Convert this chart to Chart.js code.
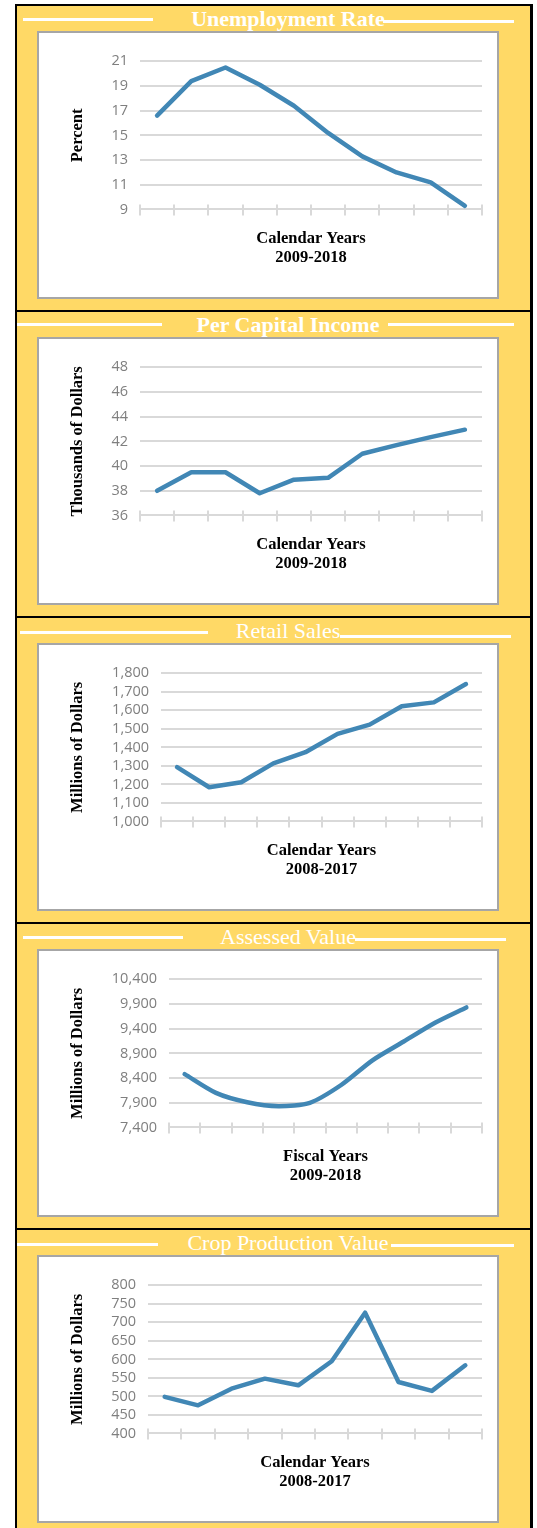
<!DOCTYPE html>
<html>
<head>
<meta charset="utf-8">
<script src="https://cdn.jsdelivr.net/npm/chart.js@4.4.1/dist/chart.umd.min.js"></script>
<style>
  body { margin: 0; background: #fff; width: 537px; height: 1528px; overflow: hidden; position: relative; }
  .panel {
    position: absolute; left: 15px; width: 518px; height: 306px; box-sizing: border-box;
    background: #FFD966; border-top: 2px solid #000; border-left: 2px solid #000; border-right: 3px solid #000;
  }
  .title {
    position: absolute; left: 271px; top: 2px; transform: translateX(-50%); white-space: nowrap;
    font-family: "Liberation Serif", serif; font-size: 22px; line-height: 22px; color: #fff;
  }
  .rule { position: absolute; height: 3px; background: #fff; }
  .box {
    position: absolute; left: 20px; top: 25px; width: 462px; height: 268px; box-sizing: border-box;
    border: 2px solid #A6A6A6; background: #fff;
  }
  .box canvas { display: block; }
</style>
</head>
<body>
<div class="panel" style="top:4px">
  <div class="rule" style="left:6px;width:130px;top:12px"></div>
  <div class="rule" style="left:366px;width:131px;top:14px"></div>
  <div class="title" style="font-weight:bold">Unemployment Rate</div>
  <div class="box"><canvas id="c1" width="458" height="264"></canvas></div>
</div>
<div class="panel" style="top:310px">
  <div class="rule" style="left:0px;width:145px;top:11px"></div>
  <div class="rule" style="left:371px;width:126px;top:11px"></div>
  <div class="title" style="font-weight:bold">Per Capital Income</div>
  <div class="box"><canvas id="c2" width="458" height="264"></canvas></div>
</div>
<div class="panel" style="top:616px">
  <div class="rule" style="left:3px;width:188px;top:13px"></div>
  <div class="rule" style="left:323px;width:171px;top:17px"></div>
  <div class="title">Retail Sales</div>
  <div class="box"><canvas id="c3" width="458" height="264"></canvas></div>
</div>
<div class="panel" style="top:922px">
  <div class="rule" style="left:6px;width:160px;top:12px"></div>
  <div class="rule" style="left:338px;width:151px;top:14px"></div>
  <div class="title">Assessed Value</div>
  <div class="box"><canvas id="c4" width="458" height="264"></canvas></div>
</div>
<div class="panel" style="top:1228px">
  <div class="rule" style="left:0px;width:141px;top:13px"></div>
  <div class="rule" style="left:374px;width:123px;top:14px"></div>
  <div class="title">Crop Production Value</div>
  <div class="box"><canvas id="c5" width="458" height="264"></canvas></div>
</div>

<script>
// category labels
const years0918 = ["2009", "2010", "2011", "2012", "2013", "2014", "2015", "2016", "2017", "2018"];
const years0817 = ["2008", "2009", "2010", "2011", "2012", "2013", "2014", "2015", "2016", "2017"];

// series values
const unemploymentRate = [16.6, 19.4, 20.5, 19.1, 17.4, 15.2, 13.3, 12.0, 11.2, 9.3];
const perCapitaIncome = [38.0, 39.5, 39.5, 37.8, 38.9, 39.05, 41.0, 41.7, 42.35, 42.95];
const retailSales = [1293, 1185, 1212, 1314, 1374, 1473, 1523, 1622, 1643, 1742];
const assessedValue = [8480, 8100, 7910, 7830, 7900, 8260, 8760, 9140, 9520, 9830];
const cropValue = [499, 476, 521, 548, 530, 595, 726, 539, 515, 584];

// axis titles
const xTitleCalendar0918 = ["Calendar Years", "2009-2018"];
const xTitleCalendar0817 = ["Calendar Years", "2008-2017"];
const xTitleFiscal0918 = ["Fiscal Years", "2009-2018"];

const LINE_BLUE = "#4187B5";
const GRID = "#D9D9D9";
const serifBold = { family: "Liberation Serif", size: 16.5, weight: "bold", lineHeight: 1.17 };

// the x tick marks cross the axis line, so add the short part above it
const crossTicks = {
    id: "crossTicks",
    afterDraw(chart) {
        const x = chart.scales.x;
        const c = chart.ctx;
        c.save();
        c.strokeStyle = GRID;
        c.lineWidth = 2;
        c.beginPath();
        for (let i = 0; i <= x.ticks.length; i++) {
            const gx = Math.round(x.getPixelForValue(i - 0.5));
            c.moveTo(gx, x.top - 5);
            c.lineTo(gx, x.top);
        }
        c.stroke();
        c.restore();
    },
};

function makeChart(id, labels, values, opts) {
    const ctx = document.getElementById(id).getContext("2d");
    return new Chart(ctx, {
        type: "line",
        data: {
            labels: labels,
            datasets: [{
                data: values,
                borderColor: LINE_BLUE,
                borderWidth: 4.5,
                borderCapStyle: "round",
                borderJoinStyle: "round",
                pointRadius: 0,
                tension: opts.tension || 0,
            }],
        },
        options: {
            responsive: false,
            animation: false,
            layout: { padding: { left: 0, right: 15, top: 28.3, bottom: 29.2 } },
            plugins: { legend: { display: false }, tooltip: { enabled: false } },
            scales: {
                x: {
                    offset: true,
                    grid: { offset: true, drawOnChartArea: false, tickLength: 6, color: GRID, lineWidth: 2 },
                    border: { color: GRID, width: 2 },
                    ticks: { display: false },
                    title: {
                        display: true,
                        text: opts.xTitle,
                        color: "#000",
                        font: serifBold,
                        padding: { top: 13.7, bottom: 0 },
                    },
                },
                y: {
                    min: opts.min,
                    max: opts.max,
                    ticks: {
                        stepSize: opts.step,
                        autoSkip: false,
                        color: "#7F7F7F",
                        padding: 12,
                        font: { family: "Open Sans", size: 14.5 },
                    },
                    grid: { color: GRID, lineWidth: 2, drawTicks: false },
                    border: { display: false },
                    title: {
                        display: true,
                        text: opts.yTitle,
                        color: "#000",
                        font: serifBold,
                        padding: { top: 29.4, bottom: 0 },
                    },
                    afterFit: (scale) => { scale.width = opts.yWidth; },
                },
            },
        },
        plugins: [crossTicks],
    });
}

makeChart("c1", years0918, unemploymentRate, {
    min: 9, max: 21, step: 2, yTitle: "Percent", xTitle: xTitleCalendar0918, yWidth: 101,
});
makeChart("c2", years0918, perCapitaIncome, {
    min: 36, max: 48, step: 2, yTitle: "Thousands of Dollars", xTitle: xTitleCalendar0918, yWidth: 101,
});
makeChart("c3", years0817, retailSales, {
    min: 1000, max: 1800, step: 100, yTitle: "Millions of Dollars", xTitle: xTitleCalendar0817, yWidth: 122,
});
makeChart("c4", years0918, assessedValue, {
    min: 7400, max: 10400, step: 500, yTitle: "Millions of Dollars", xTitle: xTitleFiscal0918, yWidth: 130, tension: 0.25,
});
makeChart("c5", years0817, cropValue, {
    min: 400, max: 800, step: 50, yTitle: "Millions of Dollars", xTitle: xTitleCalendar0817, yWidth: 109,
});
</script>
</body>
</html>
